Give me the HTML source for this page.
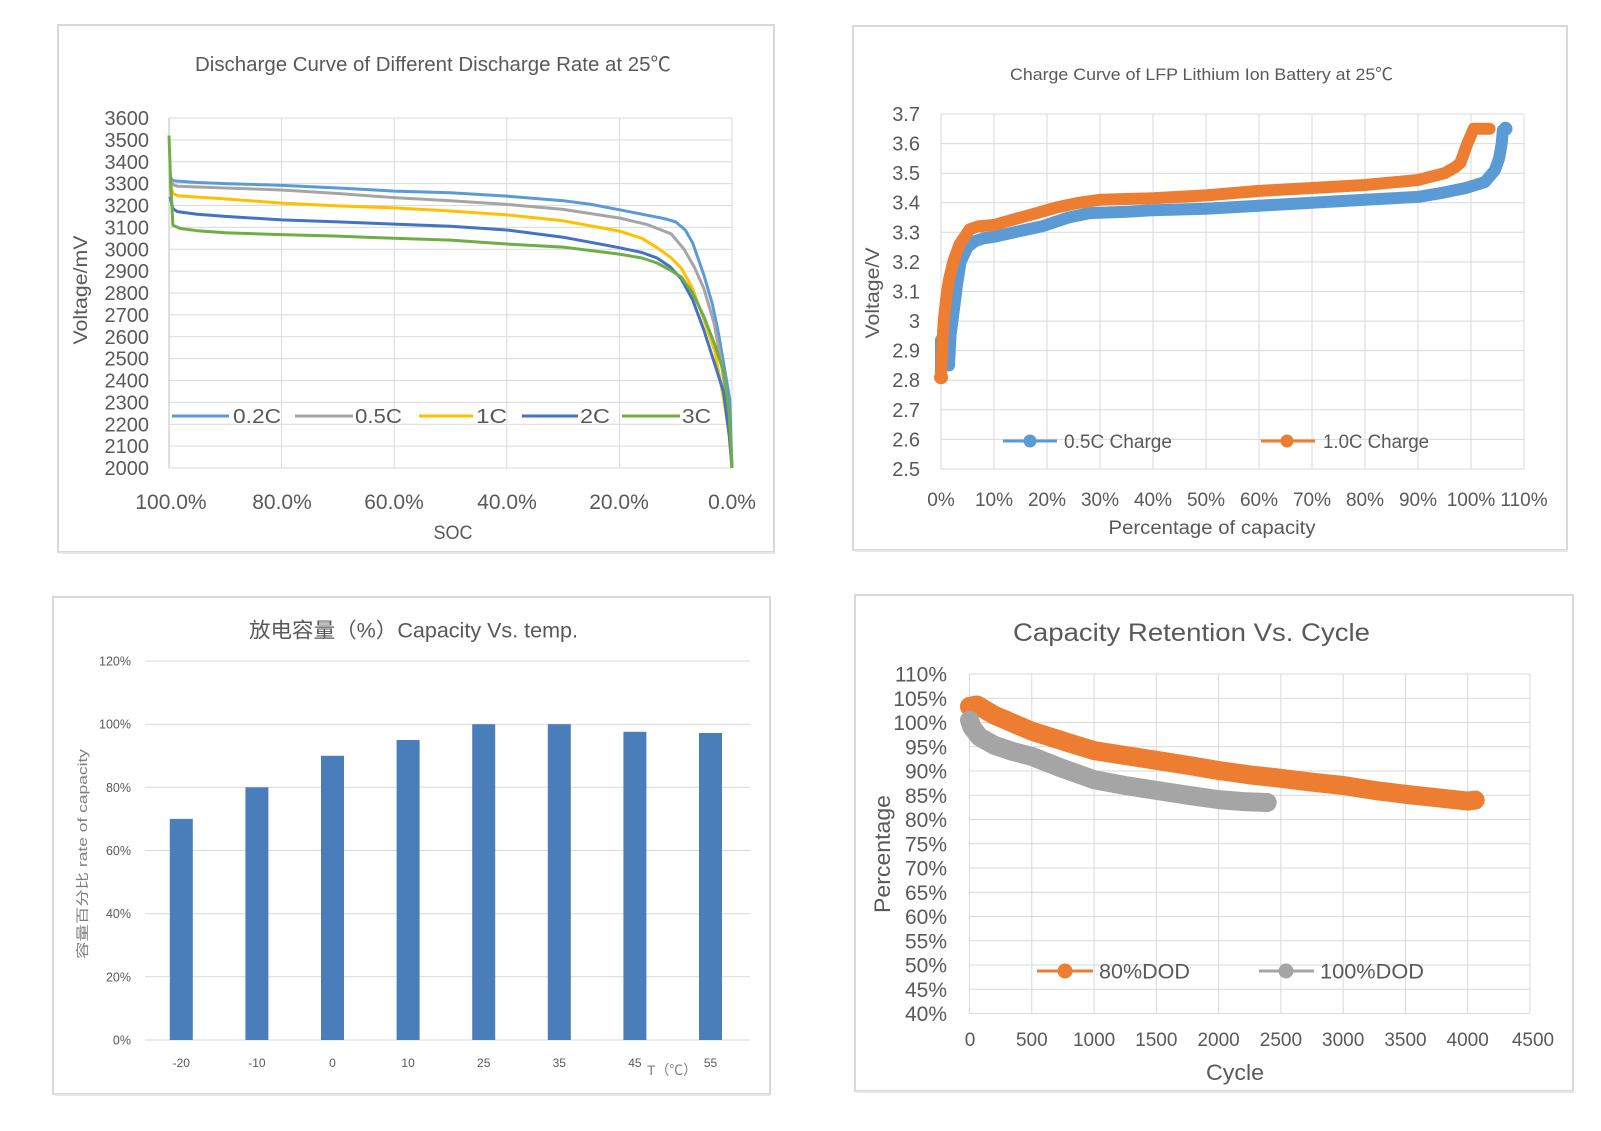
<!DOCTYPE html>
<html>
<head>
<meta charset="utf-8">
<style>
html,body{margin:0;padding:0;background:#fff;}
svg{display:block;}
text{font-family:"Liberation Sans","Noto Sans CJK SC",sans-serif;fill:#595959;}
</style>
</head>
<body>
<svg width="1601" height="1131" viewBox="0 0 1601 1131" xmlns="http://www.w3.org/2000/svg">
<rect x="0" y="0" width="1601" height="1131" fill="#fff"/>

<!-- ============ PANEL 1 ============ -->
<rect x="58" y="25" width="716" height="527" fill="#fff" stroke="#D9D9D9" stroke-width="2"/>
<line x1="60" y1="553" x2="775" y2="553" stroke="#E6E6E6" stroke-width="2"/>
<text x="195" y="71" font-size="20" textLength="476" lengthAdjust="spacingAndGlyphs">Discharge Curve of Different Discharge Rate at 25℃</text>
<g stroke="#D9D9D9" stroke-width="1">
<line x1="169" y1="118" x2="732" y2="118"/><line x1="169" y1="139.9" x2="732" y2="139.9"/><line x1="169" y1="161.75" x2="732" y2="161.75"/><line x1="169" y1="183.6" x2="732" y2="183.6"/><line x1="169" y1="205.5" x2="732" y2="205.5"/><line x1="169" y1="227.4" x2="732" y2="227.4"/><line x1="169" y1="249.25" x2="732" y2="249.25"/><line x1="169" y1="271.1" x2="732" y2="271.1"/><line x1="169" y1="293" x2="732" y2="293"/><line x1="169" y1="314.9" x2="732" y2="314.9"/><line x1="169" y1="336.75" x2="732" y2="336.75"/><line x1="169" y1="358.6" x2="732" y2="358.6"/><line x1="169" y1="380.5" x2="732" y2="380.5"/><line x1="169" y1="402.4" x2="732" y2="402.4"/><line x1="169" y1="424.25" x2="732" y2="424.25"/><line x1="169" y1="446.1" x2="732" y2="446.1"/><line x1="169" y1="468" x2="732" y2="468"/>
<line x1="281.6" y1="118" x2="281.6" y2="468"/><line x1="394.2" y1="118" x2="394.2" y2="468"/><line x1="506.8" y1="118" x2="506.8" y2="468"/><line x1="619.4" y1="118" x2="619.4" y2="468"/><line x1="732" y1="118" x2="732" y2="468"/>
</g>
<line x1="169" y1="118" x2="169" y2="468" stroke="#BFBFBF" stroke-width="1"/>
<g font-size="20" text-anchor="end">
<text x="149" y="125">3600</text><text x="149" y="146.9">3500</text><text x="149" y="168.75">3400</text><text x="149" y="190.6">3300</text><text x="149" y="212.5">3200</text><text x="149" y="234.4">3100</text><text x="149" y="256.25">3000</text><text x="149" y="278.1">2900</text><text x="149" y="300">2800</text><text x="149" y="321.9">2700</text><text x="149" y="343.75">2600</text><text x="149" y="365.6">2500</text><text x="149" y="387.5">2400</text><text x="149" y="409.4">2300</text><text x="149" y="431.25">2200</text><text x="149" y="453.1">2100</text><text x="149" y="475">2000</text>
</g>
<g font-size="21" text-anchor="middle">
<text x="171" y="509">100.0%</text><text x="282" y="509">80.0%</text><text x="394" y="509">60.0%</text><text x="507" y="509">40.0%</text><text x="619" y="509">20.0%</text><text x="732" y="509">0.0%</text>
</g>
<text x="453" y="539" font-size="19" text-anchor="middle" textLength="39" lengthAdjust="spacingAndGlyphs">SOC</text>
<text transform="translate(80,290) rotate(-90)" x="0" y="7" font-size="19" text-anchor="middle" textLength="109" lengthAdjust="spacingAndGlyphs">Voltage/mV</text>
<g fill="none" stroke-width="3" stroke-linejoin="round">
<polyline stroke="#5B9BD5" points="170.1,174.9 171.8,180.3 175.8,181 197.2,182.5 225.3,183.6 281.6,185.4 337.9,188 394.2,191.1 450.5,192.8 506.8,196.1 563.1,200.7 591.3,204.4 622.2,210.3 647.6,215.3 664.4,218.6 675.7,221.9 685.3,230 692.6,242.7 703.9,275.1 712.3,303.9 717.9,330.2 723.6,363 729.7,399.1 732,468"/>
<polyline stroke="#A5A5A5" points="170.1,179.3 172.9,184.7 177.4,186.3 225.3,188 281.6,190 337.9,193.5 394.2,197.6 450.5,200.7 506.8,204.4 563.1,209.4 619.4,218 647.6,224.7 671.2,233.9 684.1,249.3 694.8,268.1 703.9,288.6 714,323 720.7,358.6 726.4,399.1 730.9,446.1 732,468"/>
<polyline stroke="#FFC000" points="170.1,183.6 172.9,193.5 177.4,195.7 225.3,198.9 281.6,203.1 337.9,205.9 394.2,207.9 450.5,211 506.8,214.9 563.1,220.8 619.4,231.1 641.9,238.3 657.1,247.7 670.1,256.9 681.3,268.1 692.6,288.6 703.9,319.9 715.1,352.1 723.6,399.1 729.2,435.2 732,468"/>
<polyline stroke="#4472C4" points="170.1,196.75 172.9,208.8 177.4,211.6 197.2,214.25 225.3,216.4 281.6,219.9 337.9,221.9 394.2,224.1 450.5,226.3 506.8,230 563.1,237.2 619.4,247.7 641.9,252.5 657.1,258 670.1,266.75 681.3,279 692.6,299.6 703.9,330.2 715.1,365.2 723.6,392.1 729.2,435.2 732,468"/>
<polyline stroke="#70AD47" points="169,135.5 170.7,183.6 172.9,225.2 180.3,228.5 197.2,230.7 225.3,232.8 281.6,234.6 337.9,236.1 394.2,238.3 450.5,240.1 506.8,244 563.1,247.1 619.4,254.1 641.9,258 657.1,263 670.1,270 681.3,277 692.6,293 703.9,316.6 715.1,345.5 723.6,371.75 729.2,413.3 732,468"/>
</g>
<g stroke-width="3">
<line x1="172" y1="416" x2="229" y2="416" stroke="#5B9BD5"/>
<line x1="295" y1="416" x2="353" y2="416" stroke="#A5A5A5"/>
<line x1="419" y1="416" x2="473" y2="416" stroke="#FFC000"/>
<line x1="522" y1="416" x2="578" y2="416" stroke="#4472C4"/>
<line x1="622" y1="416" x2="680" y2="416" stroke="#70AD47"/>
</g>
<g font-size="20">
<text x="233" y="423" textLength="48" lengthAdjust="spacingAndGlyphs">0.2C</text>
<text x="355" y="423" textLength="47" lengthAdjust="spacingAndGlyphs">0.5C</text>
<text x="476" y="423" textLength="31" lengthAdjust="spacingAndGlyphs">1C</text>
<text x="580" y="423" textLength="30" lengthAdjust="spacingAndGlyphs">2C</text>
<text x="682" y="423" textLength="29" lengthAdjust="spacingAndGlyphs">3C</text>
</g>

<!-- ============ PANEL 2 ============ -->
<rect x="853" y="26" width="714" height="524" fill="#fff" stroke="#D9D9D9" stroke-width="2"/>
<line x1="855" y1="551" x2="1568" y2="551" stroke="#E6E6E6" stroke-width="2"/>
<text x="1010" y="80" font-size="17" textLength="383" lengthAdjust="spacingAndGlyphs">Charge Curve of LFP Lithium Ion Battery at 25℃</text>
<g stroke="#D9D9D9" stroke-width="1">
<line x1="941" y1="114" x2="1524" y2="114"/><line x1="941" y1="143.6" x2="1524" y2="143.6"/><line x1="941" y1="173.2" x2="1524" y2="173.2"/><line x1="941" y1="202.7" x2="1524" y2="202.7"/><line x1="941" y1="232.3" x2="1524" y2="232.3"/><line x1="941" y1="261.9" x2="1524" y2="261.9"/><line x1="941" y1="291.5" x2="1524" y2="291.5"/><line x1="941" y1="321.1" x2="1524" y2="321.1"/><line x1="941" y1="350.6" x2="1524" y2="350.6"/><line x1="941" y1="380.2" x2="1524" y2="380.2"/><line x1="941" y1="409.8" x2="1524" y2="409.8"/><line x1="941" y1="439.4" x2="1524" y2="439.4"/><line x1="941" y1="469" x2="1524" y2="469"/>
<line x1="941" y1="114" x2="941" y2="469"/><line x1="994" y1="114" x2="994" y2="469"/><line x1="1047" y1="114" x2="1047" y2="469"/><line x1="1100" y1="114" x2="1100" y2="469"/><line x1="1153" y1="114" x2="1153" y2="469"/><line x1="1206" y1="114" x2="1206" y2="469"/><line x1="1259" y1="114" x2="1259" y2="469"/><line x1="1312" y1="114" x2="1312" y2="469"/><line x1="1365" y1="114" x2="1365" y2="469"/><line x1="1418" y1="114" x2="1418" y2="469"/><line x1="1471" y1="114" x2="1471" y2="469"/><line x1="1524" y1="114" x2="1524" y2="469"/>
</g>
<g font-size="20" text-anchor="end">
<text x="920" y="121">3.7</text><text x="920" y="150.6">3.6</text><text x="920" y="180.2">3.5</text><text x="920" y="209.7">3.4</text><text x="920" y="239.3">3.3</text><text x="920" y="268.9">3.2</text><text x="920" y="298.5">3.1</text><text x="920" y="328.1">3</text><text x="920" y="357.6">2.9</text><text x="920" y="387.2">2.8</text><text x="920" y="416.8">2.7</text><text x="920" y="446.4">2.6</text><text x="920" y="476">2.5</text>
</g>
<g font-size="19" text-anchor="middle">
<text x="941" y="506">0%</text><text x="994" y="506">10%</text><text x="1047" y="506">20%</text><text x="1100" y="506">30%</text><text x="1153" y="506">40%</text><text x="1206" y="506">50%</text><text x="1259" y="506">60%</text><text x="1312" y="506">70%</text><text x="1365" y="506">80%</text><text x="1418" y="506">90%</text><text x="1471" y="506">100%</text><text x="1524" y="506">110%</text>
</g>
<text x="1212" y="534" font-size="19" text-anchor="middle" textLength="207" lengthAdjust="spacingAndGlyphs">Percentage of capacity</text>
<text transform="translate(872,293) rotate(-90)" x="0" y="7" font-size="19" text-anchor="middle" textLength="91" lengthAdjust="spacingAndGlyphs">Voltage/V</text>
<g fill="none" stroke-width="12" stroke-linejoin="round" stroke-linecap="round">
<polyline stroke="#5B9BD5" points="941,372 941,340"/>
<polyline stroke="#5B9BD5" points="949,365.5 950.5,335.9 954.3,306.3 956.9,285.6 960.6,261.9 967.5,247.2 974.9,241.2 983.4,238.3 994,236.8 1020.5,230.9 1041.7,226.4 1068.2,217.6 1089.4,213.1 1126.5,211.7 1153,210.2 1206,208.7 1259,205.7 1312,202.8 1365,199.8 1418,196.9 1444.5,192.4 1465.7,188 1484.8,182.1 1494.9,170.2 1499.1,158.4 1501.7,143.6 1502.8,130.3 1505.5,128.8"/>
<polyline stroke="#ED7D31" points="941,377.3 942.1,350.7 943.7,321.1 946.3,297.4 949,279.7 953.2,261.9 959.6,244.2 969.6,229.4 978.1,226.4 994,225 1009.9,220.5 1025.8,216.1 1041.7,211.7 1057.6,207.2 1078.8,202.8 1100,199.8 1153,198.3 1206,195.4 1259,190.9 1312,188 1365,185 1418,180 1444.5,173.2 1455.1,167.3 1460.4,162.8 1467.3,143.6 1473.7,128.8 1489.6,128.8"/>
</g>
<circle cx="941" cy="377.3" r="7" fill="#ED7D31"/>
<circle cx="1505.5" cy="128.8" r="7" fill="#5B9BD5"/>
<line x1="1003" y1="441" x2="1057" y2="441" stroke="#5B9BD5" stroke-width="3"/>
<circle cx="1030" cy="441" r="6.5" fill="#5B9BD5"/>
<line x1="1261" y1="441" x2="1315" y2="441" stroke="#ED7D31" stroke-width="3"/>
<circle cx="1287" cy="441" r="6.5" fill="#ED7D31"/>
<g font-size="19">
<text x="1064" y="448" textLength="108" lengthAdjust="spacingAndGlyphs">0.5C Charge</text>
<text x="1323" y="448" textLength="106" lengthAdjust="spacingAndGlyphs">1.0C Charge</text>
</g>

<!-- ============ PANEL 3 ============ -->
<rect x="53" y="597" width="717" height="497" fill="#fff" stroke="#D9D9D9" stroke-width="2"/>
<line x1="55" y1="1095" x2="771" y2="1095" stroke="#E6E6E6" stroke-width="2"/>
<text x="249" y="637.5" font-size="21" textLength="329" lengthAdjust="spacingAndGlyphs">放电容量（%）Capacity Vs. temp.</text>
<g stroke="#D9D9D9" stroke-width="1">
<line x1="145" y1="661" x2="750" y2="661"/><line x1="145" y1="724.2" x2="750" y2="724.2"/><line x1="145" y1="787.3" x2="750" y2="787.3"/><line x1="145" y1="850.5" x2="750" y2="850.5"/><line x1="145" y1="913.7" x2="750" y2="913.7"/><line x1="145" y1="976.8" x2="750" y2="976.8"/><line x1="145" y1="1040" x2="750" y2="1040"/>
</g>
<g font-size="12.5" text-anchor="end" style="fill:#7F7F7F">
<text x="131" y="665.5">120%</text><text x="131" y="728.7">100%</text><text x="131" y="791.8">80%</text><text x="131" y="855">60%</text><text x="131" y="918.2">40%</text><text x="131" y="981.3">20%</text><text x="131" y="1044.5">0%</text>
</g>
<g fill="#4A7EBB">
<rect x="169.8" y="818.9" width="23" height="221.1"/>
<rect x="245.4" y="787.3" width="23" height="252.7"/>
<rect x="321" y="755.8" width="23" height="284.2"/>
<rect x="396.6" y="740" width="23" height="300"/>
<rect x="472.2" y="724.2" width="23" height="315.8"/>
<rect x="547.8" y="724.2" width="23" height="315.8"/>
<rect x="623.4" y="731.8" width="23" height="308.2"/>
<rect x="699" y="733" width="23" height="307"/>
</g>
<g font-size="12" text-anchor="middle" style="fill:#7F7F7F">
<text x="181.3" y="1067">-20</text><text x="256.9" y="1067">-10</text><text x="332.5" y="1067">0</text><text x="408.1" y="1067">10</text><text x="483.7" y="1067">25</text><text x="559.3" y="1067">35</text><text x="634.9" y="1067">45</text><text x="710.5" y="1067">55</text>
</g>
<text x="672" y="1075" font-size="14" text-anchor="middle" textLength="50" lengthAdjust="spacingAndGlyphs" style="fill:#7F7F7F">T（℃）</text>
<text transform="translate(82,854) rotate(-90)" x="0" y="5" font-size="13" text-anchor="middle" textLength="210" lengthAdjust="spacingAndGlyphs" style="fill:#7F7F7F">容量百分比 rate of capacity</text>

<!-- ============ PANEL 4 ============ -->
<rect x="855" y="595" width="718" height="496" fill="#fff" stroke="#D9D9D9" stroke-width="2"/>
<line x1="857" y1="1092" x2="1574" y2="1092" stroke="#E6E6E6" stroke-width="2"/>
<text x="1013" y="641" font-size="25" textLength="357" lengthAdjust="spacingAndGlyphs">Capacity Retention Vs. Cycle</text>
<g stroke="#D9D9D9" stroke-width="1">
<line x1="969.5" y1="674" x2="1530" y2="674"/><line x1="969.5" y1="698.25" x2="1530" y2="698.25"/><line x1="969.5" y1="722.5" x2="1530" y2="722.5"/><line x1="969.5" y1="746.75" x2="1530" y2="746.75"/><line x1="969.5" y1="771" x2="1530" y2="771"/><line x1="969.5" y1="795.25" x2="1530" y2="795.25"/><line x1="969.5" y1="819.5" x2="1530" y2="819.5"/><line x1="969.5" y1="843.75" x2="1530" y2="843.75"/><line x1="969.5" y1="868" x2="1530" y2="868"/><line x1="969.5" y1="892.25" x2="1530" y2="892.25"/><line x1="969.5" y1="916.5" x2="1530" y2="916.5"/><line x1="969.5" y1="940.75" x2="1530" y2="940.75"/><line x1="969.5" y1="965" x2="1530" y2="965"/><line x1="969.5" y1="989.25" x2="1530" y2="989.25"/><line x1="969.5" y1="1013.5" x2="1530" y2="1013.5"/>
<line x1="969.5" y1="674" x2="969.5" y2="1013.5"/><line x1="1031.8" y1="674" x2="1031.8" y2="1013.5"/><line x1="1094.1" y1="674" x2="1094.1" y2="1013.5"/><line x1="1156.3" y1="674" x2="1156.3" y2="1013.5"/><line x1="1218.6" y1="674" x2="1218.6" y2="1013.5"/><line x1="1280.9" y1="674" x2="1280.9" y2="1013.5"/><line x1="1343.2" y1="674" x2="1343.2" y2="1013.5"/><line x1="1405.5" y1="674" x2="1405.5" y2="1013.5"/><line x1="1467.7" y1="674" x2="1467.7" y2="1013.5"/><line x1="1530" y1="674" x2="1530" y2="1013.5"/>
</g>
<g font-size="21" text-anchor="end">
<text x="947" y="681.5">110%</text><text x="947" y="705.75">105%</text><text x="947" y="730">100%</text><text x="947" y="754.25">95%</text><text x="947" y="778.5">90%</text><text x="947" y="802.75">85%</text><text x="947" y="827">80%</text><text x="947" y="851.25">75%</text><text x="947" y="875.5">70%</text><text x="947" y="899.75">65%</text><text x="947" y="924">60%</text><text x="947" y="948.25">55%</text><text x="947" y="972.5">50%</text><text x="947" y="996.75">45%</text><text x="947" y="1021">40%</text>
</g>
<g font-size="19" text-anchor="middle">
<text x="970" y="1046">0</text><text x="1031.8" y="1046">500</text><text x="1094.1" y="1046">1000</text><text x="1156.3" y="1046">1500</text><text x="1218.6" y="1046">2000</text><text x="1280.9" y="1046">2500</text><text x="1343.2" y="1046">3000</text><text x="1405.5" y="1046">3500</text><text x="1467.7" y="1046">4000</text><text x="1533" y="1046">4500</text>
</g>
<text x="1235" y="1080" font-size="22" text-anchor="middle" textLength="58" lengthAdjust="spacingAndGlyphs">Cycle</text>
<text transform="translate(882,854) rotate(-90)" x="0" y="8" font-size="22" text-anchor="middle" textLength="118" lengthAdjust="spacingAndGlyphs">Percentage</text>
<g fill="none" stroke-width="19" stroke-linejoin="round" stroke-linecap="round">
<polyline stroke="#ED7D31" points="969.5,706.5 977,705 994.4,715.2 1031.8,731.2 1069.1,742.9 1094.1,750.6 1125.2,755.5 1156.3,760.3 1187.5,765.2 1218.6,770.5 1249.8,774.9 1280.9,778.3 1312,782.2 1343.2,785.5 1374.3,790.4 1405.5,794.3 1436.6,797.7 1467.7,801.1 1475.2,800.1"/>
<polyline stroke="#A5A5A5" points="969.5,720.1 972,727.3 979.5,737 994.4,745.3 1013.1,751.6 1031.8,756.4 1062.9,768.6 1094.1,779.7 1125.2,785.5 1156.3,790.4 1187.5,795.2 1218.6,799.6 1243.5,801.6 1267.2,802.5"/>
</g>
<line x1="1037" y1="971" x2="1093" y2="971" stroke="#ED7D31" stroke-width="3"/>
<circle cx="1065" cy="971" r="7.5" fill="#ED7D31"/>
<line x1="1259" y1="971" x2="1314" y2="971" stroke="#A5A5A5" stroke-width="3"/>
<circle cx="1286" cy="971" r="7.5" fill="#A5A5A5"/>
<g font-size="21">
<text x="1099" y="978.5" textLength="91" lengthAdjust="spacingAndGlyphs">80%DOD</text>
<text x="1320" y="978.5" textLength="104" lengthAdjust="spacingAndGlyphs">100%DOD</text>
</g>
</svg>
</body>
</html>
